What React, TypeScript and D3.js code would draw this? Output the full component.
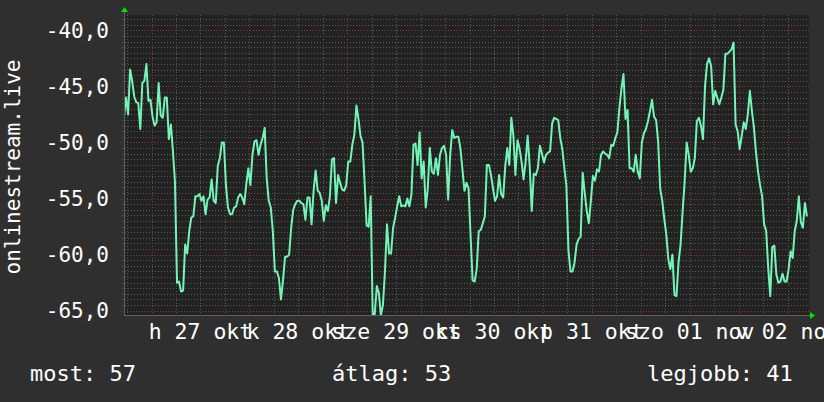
import React from "react";
import * as d3 from "d3";

const signal: number[] = [
  -47.7, -46.0, -47.5, -43.5, -44.5, -45.9, -46.4, -46.5, -48.8, -44.7,
  -44.5, -43.0, -46.3, -46.2, -47.7, -48.5, -48.2, -44.7, -47.6, -47.8,
  -46.0, -46.0, -49.7, -48.4, -50.8, -53.5, -62.5, -62.4, -63.3, -63.2,
  -59.1, -59.9, -57.9, -56.7, -56.6, -54.8, -54.8, -54.6, -55.2, -54.8,
  -56.4, -55.1, -54.9, -53.3, -55.2, -55.4, -52.1, -51.4, -50.0, -50.0,
  -53.8, -55.8, -56.4, -56.4, -55.8, -55.7, -54.9, -54.6, -54.9, -55.5,
  -53.7, -52.3, -53.8, -51.1, -49.9, -49.8, -51.1, -50.2, -49.6, -48.7,
  -53.2, -55.2, -55.8, -57.9, -61.5, -61.5, -62.1, -64.0, -62.3, -60.2,
  -60.2, -60.0, -57.6, -56.0, -55.5, -55.2, -55.2, -55.4, -55.5, -56.9,
  -54.9, -54.9, -57.3, -54.3, -52.5, -54.3, -54.5, -55.2, -57.0, -55.6,
  -56.1, -54.8, -51.5, -51.4, -55.4, -52.9, -53.6, -54.2, -54.3, -53.8,
  -51.7, -51.7, -50.2, -49.3, -46.7, -47.9, -49.4, -50.0, -53.5, -57.4,
  -57.5, -54.8, -65.4, -65.3, -62.8, -63.4, -65.4, -64.5, -61.5, -57.3,
  -59.9, -59.9, -57.6, -56.7, -55.7, -54.8, -55.7, -55.6, -55.7, -55.0,
  -55.7, -54.6, -50.2, -50.1, -52.0, -49.1, -53.2, -51.7, -55.8, -54.1,
  -50.5, -52.6, -52.8, -51.4, -52.9, -51.1, -50.5, -50.3, -51.1, -55.1,
  -51.1, -48.9, -49.6, -49.5, -49.5, -50.5, -52.4, -54.3, -53.6, -54.1,
  -58.3, -62.3, -62.4, -61.3, -57.9, -57.8, -57.2, -56.6, -52.0, -52.0,
  -52.9, -54.1, -55.2, -54.8, -52.9, -54.6, -54.9, -52.1, -50.5, -52.0,
  -47.8, -49.4, -52.9, -49.8, -50.5, -51.7, -53.3, -51.7, -49.4, -52.1,
  -56.1, -52.8, -52.9, -52.3, -50.3, -51.0, -51.8, -51.1, -50.9, -50.8,
  -48.3, -47.8, -47.9, -48.0, -49.6, -50.6, -52.3, -53.9, -59.6, -61.5,
  -61.5, -60.7, -59.1, -58.6, -58.4, -52.7, -54.5, -56.1, -57.2, -55.2,
  -53.0, -53.4, -52.4, -52.6, -51.1, -50.8, -51.0, -51.1, -51.4, -50.2,
  -50.3, -49.6, -49.1, -46.9, -45.2, -43.9, -47.9, -47.1, -52.3, -52.3,
  -52.6, -51.1, -52.6, -53.2, -50.0, -49.2, -48.8, -48.1, -47.2, -46.2,
  -47.7, -48.0, -49.9, -54.1, -55.2, -56.8, -58.2, -60.4, -61.3, -60.0,
  -63.6, -63.7, -60.7, -59.1, -56.2, -53.5, -50.0, -51.1, -52.6, -52.3,
  -51.4, -48.1, -47.8, -48.5, -49.7, -45.0, -43.0, -42.5, -43.2, -46.6,
  -45.4, -46.0, -46.6, -46.0, -45.3, -42.1, -42.1, -41.9, -41.7, -41.1,
  -48.4, -49.0, -50.6, -49.4, -48.2, -48.8, -47.5, -45.4, -47.2, -48.7,
  -50.9, -52.6, -53.8, -54.8, -57.3, -57.9, -61.2, -63.7, -59.3, -59.2,
  -61.8, -62.5, -62.4, -61.7, -62.4, -62.4, -61.3, -59.7, -60.3, -57.9,
  -57.0, -54.8, -57.1, -57.6, -55.4, -56.6,
];

const startTime = Date.UTC(2025, 9, 26, 17, 15);
const stepMinutes = 30;
const windowDays = 7;

const dayLabels = ["h 27 okt", "k 28 okt", "sze 29 okt", "cs 30 okt", "p 31 okt", "szo 01 nov", "v 02 nov"];
const yMajorTicks = [-65, -60, -55, -50, -45, -40];
const yAxisTitle = "onlinestream.live";
const legendNames = ["most", "átlag", "legjobb"];
const legendValues = [57, 53, 41];

const W = 824;
const H = 402;
const M = { left: 124, right: 809, top: 15, bottom: 315 };
const FONT = "'DejaVu Sans Mono', monospace";
const C = {
  canvas: "#2f2f2f",
  plot: "#222222",
  minor: "#5a5a5a",
  major: "#8a3a3a",
  line: "#74f4b6",
  text: "#ffffff",
  arrow: "#00e000",
};

export default function App() {
  const start = new Date(startTime);
  const end = new Date(startTime + windowDays * 86400000);
  const x = d3.scaleUtc().domain([start, end]).range([M.left, M.right]);
  const y = d3.scaleLinear().domain([-65.383, -38.636]).range([M.bottom, M.top]);

  const times = signal.map((_, i) => new Date(startTime + i * stepMinutes * 60000));
  const line = d3
    .line<number>()
    .x((_, i) => x(times[i]))
    .y((d) => y(d));

  const hours6 = d3.utcHour.every(6)!.range(start, end);
  const minorX = hours6.filter((t) => t.getUTCHours() !== 0);
  const majorX = hours6.filter((t) => t.getUTCHours() === 0);
  const noons = d3.utcDay.range(start, end).map((d) => new Date(+d + 12 * 3600000));

  const yMinor = d3.range(-65, -38.6, 0.5).filter((v) => Math.abs(v % 5) > 0.01);
  const fmt = (v: number) => d3.format(".1f")(v).replace("−", "-").replace(".", ",");

  return (
    <svg
      width={W}
      height={H}
      style={{ position: "absolute", left: 0, top: 0, background: C.canvas }}
      fontFamily={FONT}
    >
      <defs>
        <clipPath id="plotclip">
          <rect x={M.left} y={M.top} width={M.right - M.left} height={M.bottom - M.top} />
        </clipPath>
      </defs>
      <rect x={0} y={0} width={W} height={H} fill={C.canvas} />
      <rect x={M.left} y={M.top} width={M.right - M.left} height={M.bottom - M.top} fill={C.plot} />

      {yMinor.map((v) => (
        <line
          key={"ym" + v}
          x1={M.left - 2}
          x2={M.right}
          y1={Math.round(y(v)) + 0.5}
          y2={Math.round(y(v)) + 0.5}
          stroke={C.minor}
          strokeDasharray="1,2"
        />
      ))}
      {minorX.map((t) => (
        <line
          key={"xm" + +t}
          x1={Math.round(x(t)) + 0.5}
          x2={Math.round(x(t)) + 0.5}
          y1={M.top}
          y2={M.bottom + 2}
          stroke={C.minor}
          strokeDasharray="1,2"
        />
      ))}
      {yMajorTicks.map((v) => (
        <line
          key={"yM" + v}
          x1={M.left - 3}
          x2={M.right}
          y1={Math.round(y(v)) + 0.5}
          y2={Math.round(y(v)) + 0.5}
          stroke={C.major}
          strokeDasharray="1,2"
        />
      ))}
      {majorX.map((t) => (
        <line
          key={"xM" + +t}
          x1={Math.round(x(t)) + 0.5}
          x2={Math.round(x(t)) + 0.5}
          y1={M.top}
          y2={M.bottom + 3}
          stroke={C.major}
          strokeDasharray="1,2"
        />
      ))}

      <path
        d={line(signal) || ""}
        fill="none"
        stroke={C.line}
        strokeWidth={2}
        strokeLinejoin="round"
        clipPath="url(#plotclip)"
      />

      <line x1={M.left + 0.5} x2={M.left + 0.5} y1={M.top - 4} y2={M.bottom} stroke="#606060" />
      <line x1={M.left} x2={M.right + 3} y1={M.bottom + 0.5} y2={M.bottom + 0.5} stroke="#606060" />
      <path d={`M${M.left - 3},${M.top - 3} L${M.left + 4},${M.top - 3} L${M.left + 0.5},${M.top - 8} Z`} fill={C.arrow} />
      <path d={`M${M.right + 1},${M.bottom - 3} L${M.right + 1},${M.bottom + 4} L${M.right + 6},${M.bottom + 0.5} Z`} fill={C.arrow} />

      {yMajorTicks.map((v) => (
        <text key={"yl" + v} x={109} y={y(v) + 7.5} textAnchor="end" fontSize={21} fill={C.text}>
          {fmt(v)}
        </text>
      ))}
      {noons.map((t, i) => (
        <text key={"xl" + i} x={x(t)} y={338.5} textAnchor="middle" fontSize={21.5} fill={C.text}>
          {dayLabels[i]}
        </text>
      ))}
      <text
        transform={`translate(19.5, ${(M.top + M.bottom) / 2 + 2}) rotate(-90)`}
        textAnchor="middle"
        fontSize={21}
        fill={C.text}
      >
        {yAxisTitle}
      </text>
      {legendNames.map((n, i) => (
        <text key={n} x={[30, 332, 647][i]} y={380.5} fontSize={22} fill={C.text}>
          {`${n}: ${legendValues[i]}`}
        </text>
      ))}
    </svg>
  );
}
